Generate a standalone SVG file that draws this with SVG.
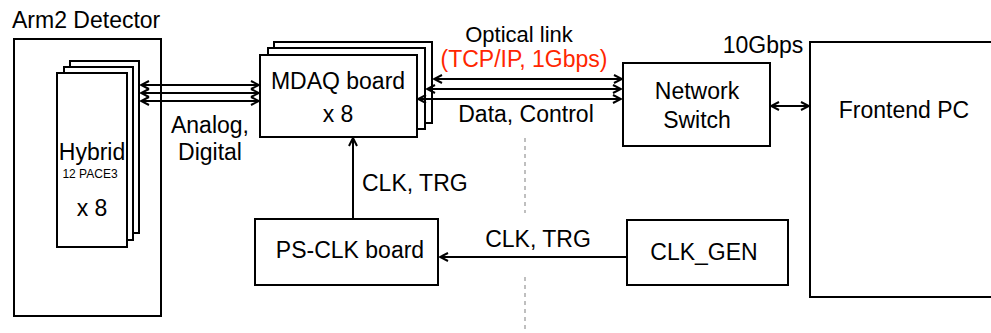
<svg xmlns="http://www.w3.org/2000/svg" width="991" height="333" viewBox="0 0 991 333">
<style>
.box{fill:#fff;stroke:#000;stroke-width:2}
.t{font-family:"Liberation Sans",Arial,sans-serif;font-size:23px;fill:#000}
.m{text-anchor:middle}
.ln{fill:none;stroke:#000;stroke-width:2}
.da{marker-start:url(#ah);marker-end:url(#ah)}
.sa{marker-end:url(#ah)}
.dash{fill:none;stroke:#aaa;stroke-width:1.5;stroke-dasharray:4 4}
</style>
<defs>
<marker id="ah" viewBox="0 0 10 10" refX="9" refY="5" markerWidth="10" markerHeight="10" markerUnits="userSpaceOnUse" orient="auto-start-reverse">
<path d="M1,1 L9,5 L1,9" fill="none" stroke="#000" stroke-width="2"/>
</marker>
</defs>
<text class="t" x="12" y="28">Arm2 Detector</text>
<g id="detector">
<rect class="box" x="14" y="39" width="147" height="277"/>
</g>
<g id="hybrid">
<rect class="box" x="70" y="61" width="69" height="172"/>
<rect class="box" x="64" y="67" width="69" height="173"/>
<rect class="box" x="57" y="73" width="70" height="174"/>
<text class="t m" x="92" y="160">Hybrid</text>
<text class="t m" x="90" y="178" style="font-size:12px">12 PACE3</text>
<text class="t m" x="92" y="216">x 8</text>
</g>
<g id="mdaq">
<rect class="box" x="274" y="42" width="158" height="81"/>
<rect class="box" x="268" y="48" width="157" height="81"/>
<rect class="box" x="260" y="55" width="157" height="82"/>
<text class="t m" x="338" y="89">MDAQ board</text>
<text class="t m" x="338" y="122">x 8</text>
</g>
<g id="switch">
<rect class="box" x="623" y="63" width="147" height="83"/>
<text class="t m" x="697" y="99">Network</text>
<text class="t m" x="697" y="128">Switch</text>
</g>
<g id="frontend">
<rect class="box" x="810" y="42" width="200" height="255"/>
<text class="t m" x="904" y="118">Frontend PC</text>
</g>
<g id="psclk">
<rect class="box" x="255" y="219" width="183" height="66"/>
<text class="t m" x="350" y="258">PS-CLK board</text>
</g>
<g id="clkgen">
<rect class="box" x="627" y="220" width="161" height="65"/>
<text class="t m" x="704" y="260">CLK_GEN</text>
</g>
<g id="connectors">
<line class="ln da" x1="141" y1="85" x2="259" y2="85"/>
<line class="ln da" x1="141" y1="93" x2="259" y2="93"/>
<line class="ln da" x1="141" y1="101" x2="259" y2="101"/>
<line class="ln da" x1="434" y1="79" x2="622" y2="79"/>
<line class="ln da" x1="427" y1="89" x2="621" y2="89"/>
<line class="ln da" x1="418" y1="99" x2="621" y2="99"/>
<line class="ln da" x1="771" y1="106" x2="809" y2="106"/>
<line class="ln sa" x1="353" y1="219" x2="353" y2="138"/>
<line class="ln sa" x1="626" y1="257" x2="440" y2="257"/>
<line class="dash" x1="525" y1="138" x2="525" y2="213"/>
<line class="dash" x1="525" y1="277" x2="525" y2="333"/>
<text class="t m" x="210" y="133">Analog,</text>
<text class="t m" x="210" y="160">Digital</text>
<text class="t m" x="519" y="42" style="font-size:22px">Optical link</text>
<text class="t m" x="524" y="67" style="fill:#ff2600">(TCP/IP, 1Gbps)</text>
<text class="t m" x="526" y="122">Data, Control</text>
<text class="t m" x="763" y="53">10Gbps</text>
<text class="t" x="362" y="191">CLK, TRG</text>
<text class="t m" x="538" y="247">CLK, TRG</text>
</g>
</svg>
